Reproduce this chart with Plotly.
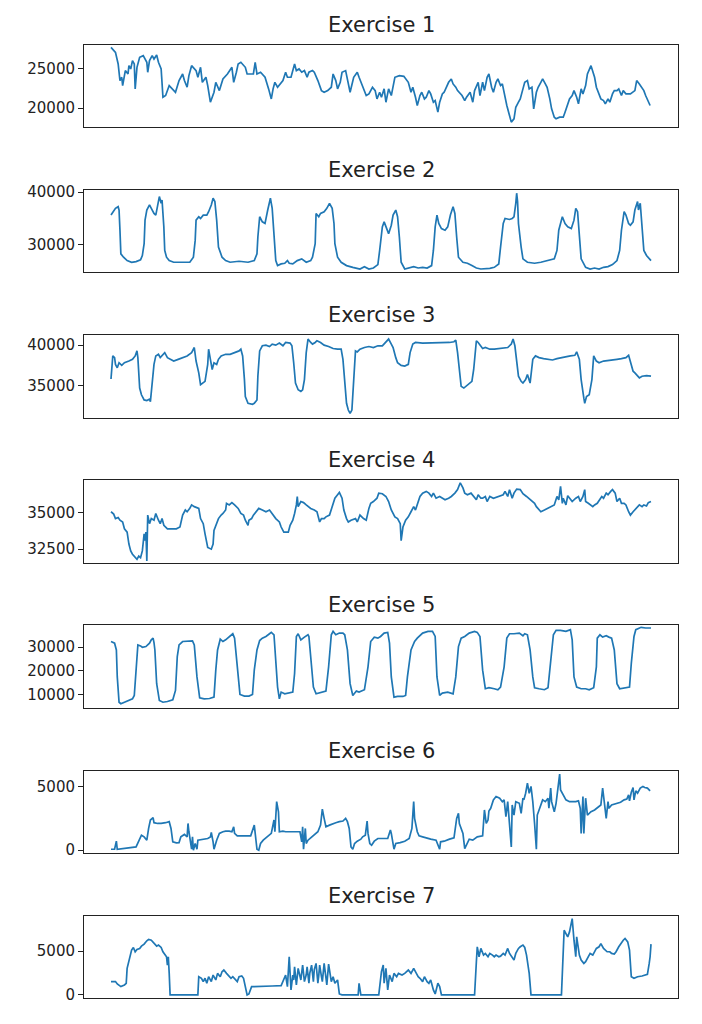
import plotly.graph_objects as go

# (sample index, reading) pairs for each exercise
ex1 = [(0, 27750), (5, 27120), (8, 25640), (10, 23520), (12, 23940), (13, 22880), (16, 24790), (19, 24360),
       (20, 25420), (22, 25000), (24, 26060), (26, 25640), (27, 22460), (29, 25210), (32, 26480), (36, 26700),
       (40, 25850), (41, 24580), (43, 26060), (46, 26700), (48, 26270), (51, 26780), (53, 25850), (56, 25000),
       (58, 21400), (61, 21610), (65, 22880), (69, 22460), (72, 22030), (76, 23520), (80, 24360), (82, 23520),
       (85, 22670), (87, 24150), (90, 25420), (95, 24790), (97, 23940), (100, 25210), (102, 23300), (106, 23940),
       (108, 22880), (111, 20760), (115, 22030), (117, 23300), (121, 22240), (125, 23730), (130, 24360),
       (135, 25210), (137, 23300), (140, 24580), (142, 25640), (145, 25850), (150, 25210), (152, 24360),
       (156, 24360), (159, 24360), (161, 25850), (163, 24360), (167, 24580), (172, 23940), (176, 22460),
       (179, 21180), (181, 22460), (183, 23300), (186, 22670), (190, 23300), (192, 23520), (195, 24580),
       (197, 23940), (201, 23940), (205, 25640), (207, 24790), (210, 25000), (213, 24580), (216, 24790),
       (219, 23940), (221, 24580), (225, 24790), (227, 24580), (231, 23520), (235, 22240), (238, 22030),
       (242, 22240), (246, 22670), (248, 24360), (251, 23520), (253, 22460), (256, 23300), (258, 24580),
       (262, 24790), (265, 23300), (267, 22030), (271, 23940), (275, 24580), (277, 23940), (280, 23090),
       (282, 22460), (285, 21610), (288, 21820), (292, 22670), (295, 22240), (297, 21180), (300, 22030),
       (302, 21400), (305, 22460), (307, 20760), (310, 22460), (313, 21610), (317, 23940), (322, 24150),
       (327, 24060), (332, 23300), (335, 22030), (337, 22670), (340, 21400), (342, 20340), (345, 21610),
       (347, 22030), (350, 21180), (352, 21400), (355, 22240), (357, 21820), (360, 20760), (362, 20970),
       (365, 19490), (367, 20760), (370, 21820), (372, 22030), (377, 23300), (380, 23730), (382, 23090),
       (385, 22670), (387, 22240), (392, 21610), (395, 20970), (397, 21400), (401, 22030), (404, 20760),
       (406, 22240), (410, 23300), (412, 21610), (415, 23300), (417, 22240), (420, 23940), (422, 24360),
       (425, 22670), (427, 22030), (430, 23300), (432, 23730), (435, 22880), (437, 23090), (440, 21180),
       (442, 20340), (445, 19060), (447, 18220), (450, 18640), (452, 20120), (455, 20760), (457, 21180),
       (460, 22460), (462, 23300), (465, 23520), (467, 22460), (470, 22670), (472, 19910), (475, 22030),
       (477, 22670), (480, 23300), (482, 23730), (485, 23090), (487, 22670), (490, 21180), (492, 19910),
       (495, 18850), (497, 18640), (501, 18850), (505, 18850), (507, 19490), (510, 20550), (512, 21180),
       (515, 21610), (517, 22240), (520, 21400), (522, 20550), (525, 22460), (527, 21820), (530, 22880),
       (532, 24360), (536, 25420), (540, 23940), (542, 22670), (545, 21610), (547, 21180), (550, 20970),
       (552, 20550), (555, 21180), (557, 20760), (560, 21820), (562, 22240), (565, 22240), (567, 22460),
       (570, 21610), (572, 22240), (575, 21820), (580, 21820), (585, 22240), (587, 23520), (590, 23090),
       (592, 22670), (595, 22240), (597, 21610), (600, 20760), (602, 20340)]

ex2 = [(0, 35610), (5, 36900), (8, 37220), (9, 36580), (10, 32710), (11, 28190), (14, 27550), (18, 26900),
       (23, 26580), (28, 26710), (33, 27040), (35, 27870), (37, 30130), (38, 34640), (40, 36580), (43, 37550),
       (45, 36900), (48, 35930), (50, 35610), (53, 38190), (54, 39160), (56, 37870), (57, 38510), (59, 33350),
       (60, 28840), (62, 27550), (65, 26900), (70, 26580), (78, 26580), (88, 26580), (92, 27550), (94, 30770),
       (95, 34640), (98, 35290), (100, 34970), (103, 35610), (107, 35610), (109, 36260), (112, 37550),
       (114, 38840), (116, 38190), (118, 34640), (120, 29480), (124, 27550), (128, 26900), (133, 26580),
       (143, 26770), (153, 26580), (160, 26900), (163, 28190), (164, 31420), (166, 35290), (169, 34320),
       (172, 34000), (175, 36580), (178, 38840), (180, 36900), (182, 31420), (184, 26900), (186, 25940),
       (190, 26260), (194, 26390), (197, 26900), (199, 26390), (203, 26260), (208, 26900), (213, 27230),
       (218, 26580), (223, 26900), (225, 27550), (228, 30130), (229, 35930), (232, 35290), (234, 35930),
       (238, 36260), (241, 36900), (244, 37870), (247, 36900), (249, 34000), (250, 30130), (253, 27550),
       (257, 26580), (263, 25940), (270, 25610), (278, 25290), (283, 25740), (288, 25290), (293, 25480),
       (298, 26130), (300, 28840), (303, 33350), (305, 34320), (308, 33030), (310, 32060), (313, 33670),
       (315, 35610), (318, 36580), (320, 35290), (322, 31420), (324, 26580), (328, 25290), (333, 25480),
       (338, 25740), (343, 25480), (348, 25610), (353, 25480), (358, 25940), (360, 28840), (362, 33350),
       (364, 35610), (366, 34000), (369, 33030), (373, 32710), (376, 33350), (379, 35610), (382, 37220),
       (384, 35930), (386, 31420), (388, 27550), (393, 26580), (398, 26390), (403, 25940), (408, 25480),
       (413, 25290), (418, 25290), (423, 25420), (428, 25610), (433, 26260), (435, 29480), (438, 34000),
       (440, 34970), (445, 34770), (448, 34970), (450, 35290), (452, 37870), (453, 39800), (454, 38190),
       (455, 34000), (458, 29480), (460, 27230), (465, 26580), (473, 26390), (480, 26580), (488, 26900),
       (495, 27230), (498, 28840), (500, 32710), (504, 35290), (507, 34000), (510, 33350), (514, 33030),
       (517, 34640), (519, 36900), (521, 36260), (523, 31420), (525, 27230), (530, 25610), (535, 25290),
       (540, 25480), (545, 25290), (550, 25610), (555, 25740), (560, 26130), (565, 26900), (568, 28840),
       (570, 32710), (573, 36260), (575, 35610), (578, 34000), (580, 33670), (583, 34320), (585, 36580),
       (588, 38190), (589, 36580), (591, 37870), (593, 32710), (595, 28840), (598, 27870), (603, 26900)]

ex3 = [(0, 35830), (2, 38670), (4, 38460), (5, 37630), (7, 37210), (9, 37830), (12, 37500), (15, 37830),
       (20, 38040), (24, 38250), (27, 38670), (29, 39290), (30, 38460), (32, 34710), (34, 33880), (37, 33250),
       (40, 33170), (43, 33330), (44, 33040), (46, 35330), (48, 37630), (50, 38670), (53, 38870), (55, 38460),
       (58, 38870), (60, 39080), (63, 38460), (67, 38250), (70, 38040), (75, 38250), (80, 38460), (85, 38670),
       (90, 39080), (93, 39710), (95, 38040), (98, 36580), (100, 35130), (103, 35330), (105, 35540),
       (108, 37630), (109, 39500), (111, 38250), (113, 37000), (115, 37830), (118, 37630), (120, 38250),
       (123, 38670), (128, 38870), (133, 38870), (138, 39080), (143, 39290), (145, 39500), (147, 38670),
       (149, 35750), (150, 33670), (153, 32830), (158, 32710), (160, 32830), (163, 33250), (164, 36170),
       (166, 39290), (169, 39920), (173, 40000), (177, 39830), (180, 40130), (184, 40000), (188, 40250),
       (192, 39920), (195, 40330), (200, 40250), (202, 39920), (204, 37830), (206, 35330), (209, 34500),
       (212, 34290), (214, 34500), (216, 35750), (218, 39080), (220, 40750), (223, 40330), (225, 40130),
       (228, 40330), (230, 40540), (234, 40330), (238, 40000), (243, 39830), (248, 39580), (253, 39500),
       (257, 39500), (259, 38250), (261, 34920), (263, 32830), (265, 32000), (267, 31580), (269, 32000),
       (271, 35330), (273, 39290), (275, 39170), (278, 39500), (283, 39710), (288, 39830), (293, 39710),
       (298, 39920), (303, 39920), (307, 40330), (310, 40750), (313, 40130), (315, 39710), (318, 38460),
       (320, 37830), (324, 37500), (328, 37420), (332, 37630), (334, 39080), (337, 40130), (340, 40330),
       (348, 40250), (358, 40250), (368, 40330), (378, 40330), (383, 40420), (385, 40630), (387, 39080),
       (389, 37000), (391, 34920), (394, 34710), (398, 35130), (403, 35540), (405, 37000), (408, 40540),
       (410, 40330), (413, 39920), (415, 39580), (418, 39710), (423, 39500), (428, 39500), (433, 39580),
       (438, 39710), (443, 39710), (447, 40130), (449, 40750), (451, 39920), (453, 38250), (455, 36170),
       (458, 35540), (460, 35330), (463, 35750), (465, 36380), (468, 35330), (469, 36380), (471, 38250),
       (474, 38670), (478, 38460), (483, 38330), (488, 38250), (493, 38170), (498, 38330), (503, 38460),
       (508, 38580), (513, 38670), (518, 38750), (520, 39170), (523, 38250), (525, 35750), (528, 33460),
       (529, 32830), (531, 33670), (534, 33880), (537, 35750), (539, 38670), (542, 38040), (545, 37830),
       (550, 38040), (555, 38130), (560, 38250), (565, 38250), (570, 38330), (575, 38460), (578, 38750),
       (580, 38040), (583, 36790), (585, 36580), (588, 36170), (590, 35960), (593, 36170), (598, 36250),
       (603, 36170)]

ex4 = [(0, 35070), (3, 34910), (5, 34600), (8, 34670), (10, 34490), (13, 34370), (15, 33900), (18, 33670),
       (20, 32850), (22, 32380), (24, 32150), (27, 31970), (29, 31800), (31, 32030), (33, 31920), (35, 32380),
       (37, 33550), (38, 33080), (39, 33670), (40, 31680), (41, 34840), (43, 34250), (45, 34600), (48, 34490),
       (50, 34950), (53, 34490), (55, 34250), (57, 34600), (59, 34140), (63, 33900), (68, 33900), (73, 33900),
       (77, 34020), (80, 34840), (83, 35190), (85, 35070), (88, 35300), (90, 35540), (93, 35420), (98, 35300),
       (100, 34600), (103, 34250), (105, 33550), (108, 32620), (112, 32500), (114, 32850), (115, 33790),
       (118, 34250), (120, 34600), (123, 34840), (125, 34950), (128, 35190), (129, 35650), (132, 35540),
       (135, 35700), (138, 35540), (142, 35300), (145, 34950), (148, 34840), (150, 34490), (153, 34140),
       (154, 34490), (157, 34600), (159, 34840), (162, 35070), (165, 35300), (169, 35190), (173, 35070),
       (177, 35190), (180, 34950), (184, 34600), (188, 34370), (190, 34020), (193, 33670), (198, 33670),
       (200, 34140), (203, 34490), (205, 34950), (207, 35540), (208, 36120), (209, 35420), (212, 35770),
       (215, 35700), (218, 35540), (223, 35300), (227, 35190), (230, 35070), (233, 34370), (235, 34600),
       (238, 34600), (240, 34720), (244, 34840), (247, 35420), (250, 36000), (253, 36240), (255, 36400),
       (258, 36000), (260, 35190), (263, 34600), (265, 34370), (268, 34490), (273, 34600), (275, 34370),
       (278, 34840), (282, 34600), (285, 34490), (288, 35300), (290, 35650), (293, 35770), (297, 36000),
       (299, 36350), (303, 36310), (307, 36120), (310, 35770), (313, 35190), (317, 34720), (320, 34600),
       (323, 34250), (324, 33080), (326, 34020), (329, 34490), (332, 34720), (335, 35070), (338, 35420),
       (340, 35190), (343, 35770), (345, 36120), (348, 36350), (352, 36470), (355, 36350), (358, 36120),
       (360, 36350), (363, 36000), (367, 36120), (370, 36000), (373, 35890), (377, 36000), (380, 36120),
       (384, 36350), (387, 36590), (390, 37060), (393, 36710), (395, 36350), (398, 36240), (402, 36350),
       (405, 36120), (408, 35890), (410, 36240), (413, 36000), (415, 36000), (418, 36120), (420, 35770),
       (423, 36120), (427, 36000), (430, 36070), (434, 36120), (438, 36240), (440, 36470), (443, 36120),
       (445, 36590), (448, 36000), (450, 36350), (453, 36630), (457, 36590), (460, 36310), (464, 36120),
       (468, 35890), (470, 35770), (473, 35650), (475, 35420), (478, 35190), (480, 35070), (484, 35190),
       (488, 35300), (492, 35420), (495, 35540), (498, 36120), (500, 35890), (502, 36820), (504, 35650),
       (505, 36000), (508, 35540), (510, 36170), (513, 35890), (515, 35770), (519, 36000), (522, 36120),
       (524, 35770), (527, 36120), (529, 36590), (530, 35770), (533, 35650), (535, 35540), (538, 35420),
       (540, 35540), (543, 35650), (548, 36120), (550, 36000), (553, 36350), (555, 36240), (558, 36470),
       (560, 36590), (563, 36350), (565, 35770), (568, 36000), (570, 35650), (573, 35650), (575, 35540),
       (578, 35070), (580, 34840), (583, 35070), (585, 35190), (588, 35420), (590, 35540), (593, 35420),
       (595, 35540), (598, 35470), (600, 35700), (603, 35770)]

ex5 = [(0, 32400), (4, 31700), (6, 28860), (7, 17500), (9, 6850), (11, 6200), (15, 6850), (19, 7560),
       (24, 8270), (26, 9700), (28, 21760), (30, 31000), (33, 30570), (35, 30000), (39, 30280), (43, 31700),
       (45, 33120), (47, 33830), (48, 31990), (49, 28860), (51, 14660), (54, 7560), (58, 6850), (63, 7140),
       (69, 7850), (72, 11820), (74, 26020), (76, 31000), (80, 32410), (86, 32410), (91, 32700), (93, 31000),
       (96, 17500), (99, 8700), (104, 8270), (110, 8420), (115, 8990), (117, 20340), (119, 28860),
       (122, 33400), (125, 32410), (128, 33120), (132, 34540), (136, 35680), (138, 33830), (141, 20340),
       (144, 10120), (149, 9410), (154, 9410), (158, 10120), (160, 20340), (163, 28860), (166, 32840),
       (169, 33830), (173, 34540), (177, 35680), (179, 36250), (182, 35250), (184, 26020), (186, 13240),
       (188, 8270), (190, 11110), (194, 10400), (197, 10690), (203, 11110), (205, 18920), (207, 34540),
       (209, 35680), (212, 33120), (216, 34260), (220, 35250), (221, 34540), (223, 26020), (226, 13240),
       (229, 10400), (235, 11110), (240, 11540), (243, 21760), (246, 35250), (248, 36670), (251, 35250),
       (255, 35960), (259, 35960), (261, 35250), (264, 28860), (267, 14660), (270, 9700), (274, 11540),
       (277, 11110), (283, 12110), (287, 21760), (290, 32410), (294, 34260), (298, 33830), (301, 34540),
       (305, 35960), (309, 36250), (311, 31700), (313, 17500), (316, 8990), (320, 9270), (326, 9270),
       (329, 9700), (331, 17500), (335, 28860), (339, 32410), (342, 33830), (348, 35960), (354, 36670),
       (359, 36670), (362, 34540), (364, 17500), (367, 9700), (370, 10690), (376, 11110), (382, 10400),
       (385, 17500), (388, 30280), (391, 33830), (395, 34540), (400, 35960), (406, 36670), (409, 36250),
       (412, 34540), (415, 20340), (418, 12530), (422, 12960), (428, 12530), (432, 12110), (435, 13240),
       (439, 21760), (442, 33830), (445, 35680), (450, 35680), (456, 35960), (460, 34830), (462, 35680),
       (465, 35250), (468, 28860), (471, 17500), (473, 12960), (478, 12530), (484, 12110), (488, 12960),
       (491, 23180), (494, 35250), (497, 37100), (502, 37100), (508, 36670), (513, 37380), (515, 33120),
       (517, 17500), (520, 13240), (525, 12530), (530, 12530), (534, 12110), (539, 12960), (542, 21760),
       (543, 33830), (546, 35250), (549, 34260), (553, 34830), (556, 34260), (559, 33830), (562, 28860),
       (565, 14660), (568, 12530), (573, 12820), (579, 13240), (581, 23180), (584, 34540), (586, 37380),
       (592, 38380), (597, 38100), (603, 38100)]

ex6 = [(0, 80), (4, 80), (6, 710), (7, 80), (28, 260), (32, 920), (34, 1180), (37, 1050), (40, 790),
       (42, 1710), (44, 2370), (47, 2550), (48, 2160), (52, 2100), (56, 2100), (61, 2160), (65, 2240),
       (67, 1710), (69, 660), (73, 580), (76, 600), (78, 1050), (82, 1240), (85, 1050), (86, 2100),
       (87, 1450), (89, 660), (90, 80), (91, 1050), (92, 0), (94, 530), (96, 80), (97, 790), (101, 840),
       (104, 840), (108, 920), (111, 1050), (112, 1390), (114, 660), (115, 80), (118, 790), (121, 1320),
       (125, 1450), (128, 1500), (132, 1500), (135, 1450), (137, 1840), (138, 1320), (141, 1130),
       (145, 1130), (149, 1130), (153, 1130), (156, 1130), (160, 1970), (161, 1130), (163, 80), (165, 0),
       (167, 530), (170, 790), (175, 1050), (179, 1320), (182, 2370), (183, 1450), (185, 3810), (187, 3020),
       (188, 1450), (192, 1500), (195, 1450), (201, 1450), (207, 1450), (211, 1450), (213, 660), (214, 1840),
       (215, 80), (217, 1710), (218, 530), (220, 790), (223, 970), (227, 1180), (231, 1450), (234, 1970),
       (236, 3230), (238, 2500), (240, 1840), (244, 1970), (248, 2100), (251, 2160), (255, 2240), (259, 2290),
       (262, 2500), (264, 2240), (266, 1710), (268, 260), (270, 80), (272, 530), (275, 710), (279, 870),
       (281, 1050), (284, 1180), (286, 2290), (287, 1320), (289, 530), (291, 390), (294, 710), (298, 920),
       (303, 920), (309, 920), (312, 1580), (313, 1320), (316, 80), (318, 530), (323, 600), (328, 710),
       (333, 920), (336, 1710), (338, 3810), (339, 2500), (342, 1450), (344, 1130), (348, 1050), (353, 920),
       (357, 870), (363, 790), (367, 80), (368, 660), (372, 710), (378, 870), (383, 970), (386, 2500),
       (388, 2890), (389, 2100), (391, 1710), (393, 1320), (395, 130), (398, 660), (400, 870), (404, 790),
       (409, 1050), (415, 1130), (417, 3160), (419, 2100), (421, 2370), (422, 3080), (424, 3290), (427, 3950),
       (430, 4210), (434, 4080), (437, 3810), (439, 3950), (441, 2630), (443, 3810), (445, 1710), (447, 260),
       (448, 3550), (450, 2760), (452, 3810), (456, 3680), (458, 2890), (460, 4080), (461, 3950), (463, 4470),
       (465, 5260), (467, 4470), (469, 5000), (471, 3810), (473, 2100), (475, 80), (476, 2760), (479, 3290),
       (482, 3950), (485, 3810), (488, 4080), (489, 3290), (491, 4870), (492, 3810), (495, 3020), (497, 3680),
       (499, 4870), (501, 5970), (502, 4730), (505, 4340), (508, 3950), (512, 3810), (515, 3810), (519, 3810),
       (522, 3870), (524, 3290), (525, 1320), (527, 4210), (528, 1320), (530, 4080), (532, 2760), (536, 3020),
       (540, 3160), (543, 3340), (547, 3550), (549, 4870), (551, 3550), (553, 2500), (555, 3810), (556, 3290),
       (559, 3550), (562, 3600), (566, 3680), (569, 3760), (573, 3950), (576, 4020), (578, 4340), (579, 3870),
       (581, 4550), (583, 4920), (584, 3950), (586, 4660), (588, 4470), (591, 4870), (594, 5000), (596, 4920),
       (599, 4870), (602, 4660)]

ex7 = [(0, 1520), (5, 1520), (7, 1250), (11, 950), (15, 1140), (17, 1330), (18, 3030), (20, 3980),
       (23, 5120), (25, 5420), (27, 4930), (29, 5190), (32, 5310), (34, 5570), (37, 5800), (40, 6180),
       (42, 6330), (45, 6250), (49, 5870), (51, 5570), (53, 5690), (56, 5420), (58, 4930), (61, 4550),
       (62, 4360), (63, 3410), (64, 4360), (65, 2460), (66, 0), (97, 0), (98, 2080), (101, 1900), (103, 1520),
       (105, 1900), (107, 1330), (109, 2080), (112, 1520), (114, 2270), (117, 1710), (119, 2460), (122, 2080),
       (124, 2650), (126, 2840), (129, 2460), (131, 2270), (134, 1900), (136, 2080), (139, 1710), (141, 1520),
       (143, 2080), (146, 2160), (148, 1900), (150, 760), (152, 0), (154, 110), (157, 950), (160, 950),
       (170, 1020), (180, 1020), (190, 1060), (192, 1520), (195, 2270), (197, 950), (199, 4360), (201, 570),
       (203, 2270), (204, 1700), (205, 3220), (207, 1140), (208, 2100), (209, 3030), (212, 1710), (213, 2600),
       (214, 3410), (216, 1520), (218, 2300), (219, 3220), (221, 1330), (222, 2500), (224, 3410), (226, 1520),
       (227, 2900), (229, 3600), (231, 1330), (232, 2200), (233, 3410), (235, 2100), (236, 1520), (238, 3600),
       (240, 2300), (241, 1140), (243, 3520), (245, 2000), (246, 1520), (248, 2080), (250, 1330), (253, 1710),
       (255, 110), (258, 0),
       (276, 0), (277, 1330), (279, 0), (299, 0), (302, 2650), (304, 3410), (305, 1330), (307, 3030),
       (309, 570), (311, 2270), (314, 1520), (316, 2460), (319, 2080), (321, 2460), (325, 2270), (328, 2460),
       (332, 2840), (335, 2460), (338, 3030), (341, 2460), (343, 2080), (345, 1900), (348, 1520), (350, 2080),
       (353, 1520), (355, 1330), (357, 1710), (360, 570), (362, 110), (365, 1330), (367, 950), (369, 0),
       (406, 0), (408, 3790), (409, 5500), (411, 4360), (413, 5310), (416, 4550), (418, 4740), (421, 4360),
       (423, 4740), (426, 4550), (428, 4360), (430, 4550), (433, 4360), (435, 4430), (438, 4740), (440, 4550),
       (443, 5310), (445, 4740), (447, 4430), (450, 3980), (452, 4740), (455, 5310), (457, 5500), (460, 5690),
       (462, 5420), (464, 4550), (467, 2460), (469, 0), (503, 0), (506, 7390), (508, 7010), (510, 6630),
       (512, 7200), (514, 8150), (515, 8720), (517, 6250), (519, 4360), (520, 6630), (523, 4550), (525, 3980),
       (528, 3600), (530, 3790), (533, 4360), (535, 4740), (538, 4550), (540, 4930), (542, 5310), (545, 5500),
       (547, 5870), (550, 5310), (552, 5120), (554, 4930), (557, 4930), (559, 4740), (562, 4660), (564, 4930),
       (567, 5500), (569, 5870), (572, 6250), (574, 6440), (577, 6060), (579, 5120), (581, 2080), (584, 1900),
       (586, 2010), (588, 2080), (593, 2160), (598, 2270), (599, 2350), (601, 3600), (602, 4360), (603, 5800)]

titles = ["Exercise 1", "Exercise 2", "Exercise 3", "Exercise 4", "Exercise 5", "Exercise 6", "Exercise 7"]
y_ticks = [[20000, 25000], [30000, 40000], [35000, 40000], [32500, 35000],
           [10000, 20000, 30000], [0, 5000], [0, 5000]]
y_ranges = [[17580, 28100], [24650, 40450], [31080, 41250], [31570, 37240],
            [4470, 39220], [-220, 6250], [-380, 9050]]
x_range = [-30.15, 633.15]

series = [ex1, ex2, ex3, ex4, ex5, ex6, ex7]

W, H = 702, 1024
left, right = 76, 670
first_top, box_h, step = 31, 83.5, 146.9
line_color = "#1f77b4"
font = "DejaVu Sans"

fig = go.Figure()
layout = {}
annotations = []
for i, pts in enumerate(series):
    n = i + 1
    sfx = "" if n == 1 else str(n)
    t = [p[0] for p in pts]
    v = [p[1] for p in pts]
    fig.add_trace(go.Scatter(x=t, y=v, mode="lines", line=dict(color=line_color, width=1.7),
                             xaxis="x" + sfx, yaxis="y" + sfx, showlegend=False, hoverinfo="skip"))
    top = first_top + step * i
    y1 = 1 - top / H
    y0 = 1 - (top + box_h) / H
    layout["xaxis" + sfx] = dict(domain=[left / W, right / W], anchor="y" + sfx, range=x_range,
                                 showticklabels=False, ticks="", showgrid=False, zeroline=False,
                                 showline=True, mirror=True, linecolor="#222", linewidth=1)
    layout["yaxis" + sfx] = dict(domain=[y0, y1], anchor="x" + sfx, range=y_ranges[i],
                                 tickvals=y_ticks[i], tickformat="d", ticks="outside", ticklen=5,
                                 tickcolor="#222", tickwidth=1, showgrid=False, zeroline=False,
                                 showline=True, mirror=True, linecolor="#222", linewidth=1,
                                 tickfont=dict(family=font, size=15, color="#222"))
    annotations.append(dict(text=titles[i], x=(left + right) / 2 / W, y=y1, xref="paper", yref="paper",
                            xanchor="center", yanchor="bottom", yshift=6, showarrow=False,
                            font=dict(family=font, size=21, color="#222")))

fig.update_layout(width=W, height=H, margin=dict(l=0, r=0, t=0, b=0),
                  paper_bgcolor="white", plot_bgcolor="white",
                  annotations=annotations, **layout)
fig.write_html("out.html")
